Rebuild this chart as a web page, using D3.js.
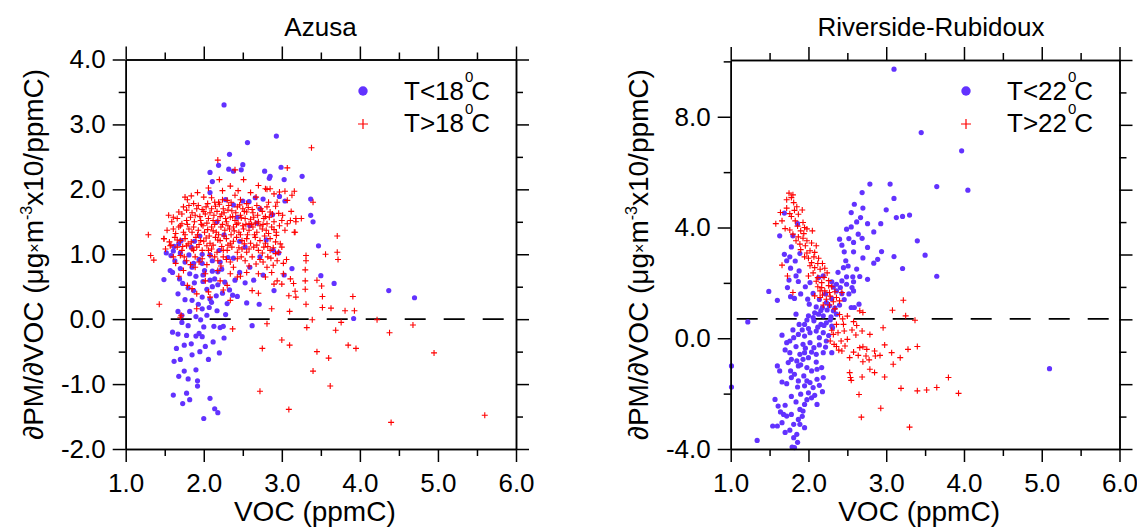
<!DOCTYPE html>
<html>
<head>
<meta charset="utf-8">
<script src="https://cdn.jsdelivr.net/npm/d3@7"></script>
<style>
  body { margin: 0; background: #fff; }
  text { font-family: "Liberation Sans", Arial, sans-serif; fill: #000; }
</style>
</head>
<body>
<div id="chart"></div>
<script>
// ---- data ----
const xTicks = [1, 2, 3, 4, 5, 6]
const xMinor = [1.5, 2.5, 3.5, 4.5, 5.5]
const azusaYTicks = [-2, -1, 0, 1, 2, 3, 4]
const azusaYMinor = [-1.5, -0.5, 0.5, 1.5, 2.5, 3.5]
const riverYTicks = [-4, 0, 4, 8]
const riverYMinor = [-2, 2, 6, 10]
const azusaRef = 0
const riverRef = 0.7

// Azusa, T<18C
const azusaCold = [
  [2.26,3.30],[2.93,2.82],[2.56,2.72],[2.33,2.54],[2.19,2.37],[2.50,2.38],[2.08,2.26],[2.32,2.31],
  [2.38,2.28],[2.48,2.30],[2.78,2.28],[2.99,2.34],[2.85,2.20],[2.84,2.17],[3.03,2.15],[3.26,2.20],
  [2.11,2.12],[2.08,1.95],[2.66,1.87],[2.76,1.85],[2.97,1.89],[3.37,1.85],[3.04,1.82],[2.28,1.84],
  [2.50,1.82],[2.58,1.81],[2.38,1.76],[2.72,1.70],[2.88,1.61],[3.37,1.60],[3.40,1.50],[2.43,1.57],
  [2.68,1.48],[2.59,1.44],[2.17,1.50],[1.95,1.28],[1.71,1.21],[1.68,1.16],[1.52,1.02],[1.61,1.05],
  [1.81,0.99],[1.84,1.11],[2.08,0.99],[2.11,0.90],[2.21,0.88],[2.31,0.95],[2.38,0.94],[2.53,1.11],
  [2.72,0.96],[2.89,1.06],[3.47,1.13],[1.63,0.90],[1.87,0.86],[1.98,0.86],[2.01,0.75],[2.11,0.74],
  [1.85,0.80],[1.90,0.66],[1.99,0.68],[2.18,0.73],[2.23,0.77],[1.57,0.75],[1.60,0.72],[1.49,0.61],
  [1.69,0.62],[1.73,0.55],[1.67,0.39],[1.80,0.48],[1.87,0.44],[1.99,0.58],[2.08,0.60],[2.11,0.50],
  [2.18,0.53],[2.27,0.57],[2.33,0.45],[2.40,0.60],[2.53,0.56],[2.59,0.80],[2.76,0.68],[3.03,0.68],
  [3.13,0.78],[3.50,0.67],[3.67,0.55],[2.90,0.44],[2.37,0.37],[2.43,0.35],[1.98,0.34],[2.08,0.31],
  [2.10,0.26],[1.85,0.29],[1.93,0.23],[1.98,0.16],[2.07,0.18],[2.17,0.13],[2.55,0.25],[2.71,0.23],
  [4.37,0.44],[4.70,0.33],[3.92,0.01],[1.67,0.12],[1.72,0.06],[1.96,-0.01],[2.28,0.07],[1.80,-0.10],
  [1.60,-0.20],[1.67,-0.23],[1.78,-0.25],[1.90,-0.26],[1.98,-0.27],[2.13,-0.11],[2.21,-0.13],[2.25,-0.11],
  [2.62,-0.10],[2.26,-0.29],[1.65,-0.45],[1.70,-0.62],[1.75,-0.80],[1.80,-0.92],[1.85,-0.55],[1.90,-0.78],
  [1.95,-0.50],[2.02,-0.42],[2.20,-0.52],[1.62,-0.65],[1.92,-0.95],[2.12,-0.35],[1.75,-0.40],
  [1.61,-1.17],[1.73,-1.30],[1.78,-1.14],[1.92,-1.03],[2.00,-1.53],[2.14,-1.38],[2.18,-1.44],
  [1.62,1.12],[1.70,1.02],[1.76,0.88],[1.82,0.70],[1.88,0.56],[1.94,0.92],[2.04,0.46],[2.14,0.62],
  [2.24,0.40],[2.30,0.24],[1.76,0.30],[1.82,0.12],[1.90,0.04],[2.00,-0.12],[2.04,0.06],[2.16,0.36],
  [1.70,0.78],[1.58,0.98],[2.46,0.72],[2.64,0.60],[2.20,1.06],[1.98,1.00],[1.88,1.20],[2.26,1.30],
  [2.46,1.20],[2.80,1.22],[2.96,1.02],[1.72,-0.05],[1.84,-0.38],[2.06,-0.62],[1.68,-0.88],[1.82,-1.24],
  [2.08,-1.22],[1.94,-0.22]
]

// Azusa, T>18C
const azusaWarm = [
  [1.76,1.88],[1.79,1.84],[2.00,1.88],[2.10,1.87],[2.19,1.80],[2.30,1.83],[2.40,1.91],[2.47,1.84],
  [2.55,1.78],[2.67,1.88],[2.79,2.01],[2.85,2.01],[2.97,1.96],[3.07,1.83],[3.13,1.91],[2.90,1.93],[2.94,1.80],
  [1.55,1.60],[1.61,1.57],[1.68,1.65],[1.74,1.73],[1.81,1.75],[1.87,1.78],[1.93,1.75],[1.98,1.69],
  [2.03,1.73],[2.10,1.70],[2.15,1.74],[2.20,1.77],[2.25,1.70],[2.32,1.75],[2.36,1.67],[2.43,1.73],
  [2.50,1.70],[2.55,1.65],[2.62,1.69],[2.68,1.75],[2.75,1.66],[2.81,1.73],[2.85,1.65],[2.92,1.74],
  [2.96,1.63],[3.01,1.60],[2.84,1.57],[3.11,1.52],[3.18,1.50],
  [1.59,1.50],[1.66,1.55],[1.72,1.47],[1.78,1.52],[1.83,1.57],[1.89,1.60],[1.96,1.52],[2.02,1.62],
  [2.06,1.55],[2.13,1.60],[2.18,1.52],[2.23,1.62],[2.28,1.55],[2.34,1.57],[2.40,1.52],[2.47,1.60],
  [2.53,1.55],[2.58,1.47],[2.64,1.57],[2.70,1.50],[2.77,1.55],[2.81,1.47],[2.90,1.50],[3.00,1.52],
  [3.07,1.47],[3.16,1.34],[3.18,1.55],
  [1.53,1.37],[1.61,1.39],[1.68,1.42],[1.74,1.34],[1.81,1.39],[1.87,1.42],[1.93,1.37],[1.99,1.44],
  [2.05,1.38],[2.10,1.42],[2.16,1.34],[2.22,1.42],[2.27,1.37],[2.33,1.39],[2.38,1.42],[2.45,1.34],
  [2.51,1.39],[2.58,1.37],[2.63,1.42],[2.68,1.34],[2.75,1.39],[2.80,1.37],[2.87,1.42],[2.93,1.34],
  [3.04,1.37],[2.93,1.29],
  [1.49,1.24],[1.56,1.19],[1.63,1.26],[1.70,1.21],[1.76,1.24],[1.84,1.19],[1.90,1.26],[1.96,1.21],
  [2.03,1.25],[2.08,1.17],[2.15,1.26],[2.21,1.21],[2.29,1.24],[2.34,1.17],[2.42,1.26],[2.49,1.21],
  [2.55,1.24],[2.60,1.17],[2.66,1.26],[2.72,1.21],[2.79,1.17],[2.85,1.24],[2.92,1.19],[2.98,1.16],
  [1.51,1.08],[1.57,1.13],[1.66,1.11],[1.72,1.06],[1.78,1.13],[1.85,1.08],[1.91,1.11],[1.98,1.06],
  [2.04,1.13],[2.10,1.08],[2.17,1.03],[2.23,1.12],[2.30,1.06],[2.36,1.11],[2.43,1.03],[2.49,1.08],
  [2.55,1.03],[2.64,1.11],[2.70,1.06],[2.77,1.11],[2.85,1.06],[2.92,1.01],[3.00,1.11],[2.96,1.03],
  [1.61,0.96],[1.70,0.98],[1.78,0.90],[1.89,0.96],[1.98,0.93],[2.08,0.98],[2.18,0.90],[2.25,0.96],
  [2.34,0.88],[2.43,0.93],[2.53,0.90],[2.62,0.96],[2.67,0.85],[2.76,0.88],[2.82,0.96],[2.89,0.83],
  [2.94,0.90],[3.02,0.86],[2.81,0.80],
  [1.74,0.75],[1.89,0.80],[2.02,0.70],[2.18,0.75],[2.34,0.70],[2.43,0.65],[2.55,0.72],[2.70,0.70],
  [2.79,0.65],[2.87,0.72],[2.94,0.59],[2.90,0.54],[3.02,0.70],[3.11,0.62],[1.79,0.52],[2.02,0.59],
  [2.21,0.59],[2.30,0.52],[1.68,0.66],[1.85,0.47],[1.91,0.39],[2.06,0.42],[2.25,0.45],
  [1.70,0.03],[2.08,0.34],[2.34,0.29],
  [1.72,1.62],[1.78,1.68],[1.85,1.64],[1.91,1.70],[1.95,1.58],[2.00,1.66],[2.05,1.78],[2.08,1.64],
  [2.12,1.52],[2.14,1.80],[2.17,1.66],[2.21,1.58],[2.24,1.84],[2.26,1.64],[2.29,1.50],[2.31,1.68],
  [2.35,1.80],[2.37,1.58],[2.41,1.64],[2.44,1.48],[2.46,1.76],[2.48,1.56],[2.52,1.66],[2.54,1.46],
  [2.57,1.72],[2.60,1.54],[2.63,1.64],[2.66,1.48],[2.69,1.60],[2.73,1.70],[2.76,1.46],[2.79,1.58],
  [2.83,1.80],[2.88,1.62],
  [1.64,1.32],[1.70,1.44],[1.76,1.30],[1.79,1.46],[1.85,1.34],[1.88,1.50],[1.92,1.30],[1.97,1.46],
  [2.01,1.34],[2.04,1.48],[2.07,1.28],[2.12,1.36],[2.14,1.46],[2.19,1.30],[2.24,1.46],[2.26,1.28],
  [2.31,1.44],[2.35,1.30],[2.39,1.36],[2.42,1.46],[2.47,1.30],[2.50,1.44],[2.56,1.30],[2.61,1.46],
  [2.65,1.30],[2.72,1.44],[2.78,1.28],[2.83,1.32],[2.90,1.38],[2.97,1.44],
  [1.58,1.14],[1.66,1.22],[1.73,1.12],[1.80,1.16],[1.87,1.06],[1.94,1.15],[2.00,1.20],[2.06,1.06],
  [2.12,1.14],[2.18,1.22],[2.25,1.06],[2.31,1.14],[2.38,1.20],[2.45,1.10],[2.52,1.16],[2.58,1.08],
  [2.68,1.14],[2.75,1.02],[2.82,1.12],[2.89,1.10],
  [1.64,0.86],[1.75,0.96],[1.83,0.84],[1.94,0.88],[2.04,0.84],[2.14,0.96],[2.22,0.82],[2.29,0.92],
  [2.38,0.80],[2.48,0.96],[2.58,0.82],[2.72,0.92],[2.86,0.94],[3.06,0.92],
  [1.92,1.95],[2.06,2.02],[2.24,1.98],[2.34,2.05],[2.44,1.98],[2.60,1.95],[2.70,2.06],[1.84,1.90],
  [3.38,2.64],[3.07,2.33],[2.18,2.45],[2.40,2.30],[2.51,2.15],[2.20,2.15],[2.81,2.00],[3.16,1.97],
  [3.04,1.97],[3.40,1.80],[3.12,1.66],[3.25,1.55],[3.17,1.34],[1.29,1.30],[1.49,1.24],[3.71,1.28],
  [3.56,1.00],[3.71,1.03],[3.72,0.92],[3.31,0.98],[3.31,0.90],[1.32,0.98],[1.36,0.91],[3.30,0.76],
  [3.30,0.59],[3.45,0.60],[3.51,0.51],[3.52,0.35],[3.52,0.18],[3.30,0.46],[3.15,0.55],[3.17,0.43],
  [3.18,0.34],[3.31,0.23],[3.09,0.36],[3.00,0.54],[2.70,0.40],[2.62,0.44],[2.47,0.66],[1.43,0.23],
  [1.71,0.06],[1.91,0.16],[2.87,0.16],[3.10,0.12],[3.63,0.17],[3.81,0.13],[3.93,0.13],[3.91,0.35],
  [3.76,-0.05],[4.22,-0.01],[3.39,-0.01],[2.81,-0.07],[3.32,-0.13],[3.69,-0.17],[4.38,-0.21],[4.68,-0.09],
  [3.00,-0.32],[2.37,-0.15],
  [3.45,-0.50],[3.60,-0.60],[3.85,-0.40],[3.95,-0.45],[3.40,-0.80],[3.10,-0.40],[2.75,-0.45],[4.95,-0.52],
  [2.72,-1.11],[3.09,-1.39],[3.62,-1.03],[4.40,-1.59],[5.60,-1.48]
]

// Riverside-Rubidoux, T<22C
const riverCold = [
  [3.10,9.72],[3.45,7.43],[3.97,6.77],[4.05,5.35],[5.10,-1.10],
  [2.79,5.57],[3.05,5.57],[3.65,5.48],[2.69,5.26],[2.59,4.84],[3.00,4.64],[1.69,4.52],[3.13,4.36],
  [3.21,4.40],[2.55,4.54],[2.67,4.36],[2.76,4.14],[2.93,4.14],[1.86,4.14],[1.63,3.70],[2.49,3.94],
  [2.55,4.02],[2.40,3.58],[2.64,3.76],[2.69,3.61],[2.58,3.46],[2.43,3.36],[2.76,3.28],[3.40,3.52],
  [2.46,3.12],[2.58,3.12],[2.94,3.13],[2.89,2.85],[2.84,2.71],[1.69,3.03],[1.76,2.94],[1.89,3.06],
  [1.83,2.79],[1.77,2.53],[1.88,2.43],[1.84,2.25],[1.87,2.05],[1.75,2.10],[1.73,1.83],[1.49,1.69],
  [1.60,1.37],[1.77,1.50],[3.21,2.52],[3.65,2.24],[2.45,2.55],[2.51,2.61],[2.49,2.22],[2.57,2.22],
  [2.66,2.23],[2.76,2.13],[2.43,2.07],[2.36,1.95],[2.58,2.04],[2.56,1.83],[2.58,1.71],[2.49,1.95],
  [2.41,1.83],[2.32,1.85],[2.36,1.71],[2.43,1.61],[2.55,1.11],[2.59,1.11],[2.65,1.23],[2.30,1.43],
  [2.23,1.29],[2.19,2.25],[2.13,2.19],[2.02,2.01],[1.99,1.41],[2.01,1.23],[2.10,1.13],[2.18,1.11],
  [2.27,1.17],[2.32,0.99],[1.84,0.87],[2.00,0.81],[2.06,0.75],[2.13,0.87],[2.19,0.81],[2.29,0.77],
  [2.36,0.87],[1.95,0.50],[2.07,0.63],[2.16,0.50],[2.23,0.56],[2.30,0.44],[1.22,0.59],[2.00,0.35],
  [2.10,0.26],[2.19,0.20],[2.31,0.38],[1.95,0.08],[2.14,0.02],[2.23,-0.10],[2.30,-0.52],[2.19,-0.52],
  [1.66,0.11],[1.72,-0.16],[1.76,-0.10],[1.81,0.02],[1.87,0.14],[1.93,-0.22],[2.02,-0.16],[2.07,-0.34],
  [1.95,-0.52],[1.89,-0.58],[1.76,-0.52],[1.78,-0.76],[1.85,-0.82],[1.93,-0.76],[2.00,-0.70],[2.10,-0.58],
  [2.17,-1.06],[2.11,-1.12],[2.04,-1.18],[1.98,-1.06],[1.87,-1.00],[1.77,-1.18],[1.60,-1.00],[1.63,-1.18],
  [1.01,-1.00],[1.01,-1.76],[1.78,-1.42],[1.87,-1.54],[1.98,-1.54],[2.11,-1.48],[2.19,-1.42],[1.95,-1.72],
  [2.06,-1.78],[2.00,-1.97],[2.18,-1.93],[2.11,-2.39],[1.57,-2.21],[1.61,-2.45],[1.54,-3.17],[1.60,-3.17],
  [1.66,-3.05],[1.72,-2.81],[1.78,-2.75],[1.89,-2.57],[1.93,-2.63],[1.87,-2.93],[1.81,-3.11],[1.89,-3.11],
  [1.95,-3.23],[1.85,-3.47],[1.81,-3.59],[1.34,-3.69],[1.79,-3.93],[1.95,-2.39],[2.04,-2.15],[1.68,-2.75],
  [1.82,-3.95],
  [1.80,0.30],[1.84,-0.30],[1.88,0.50],[1.90,-0.96],[1.92,0.30],[1.96,-0.36],[1.98,0.66],[2.02,0.20],
  [2.04,-0.50],[2.08,0.92],[2.10,-0.86],[2.12,0.40],[2.14,-0.24],[2.16,1.00],[2.20,0.46],[2.22,-0.32],
  [2.24,1.02],[2.26,0.10],[2.28,0.66],[2.34,1.10],[1.70,-0.42],[1.74,-0.88],[1.82,-1.30],[1.86,-1.76],
  [1.90,-2.02],[1.94,-1.36],[2.02,-1.60],[2.08,-2.06],[2.14,-1.70],[1.72,-1.64],[1.78,-2.10],[1.84,-2.30],
  [1.70,-2.42],[1.64,-2.66],[1.76,-3.32],[1.70,-3.40],[1.92,-2.82],[1.98,-2.22],[1.86,-3.76],[1.66,-1.58],
  [2.40,1.20],[2.46,1.40],[2.52,1.60],[2.38,2.38],[2.48,2.80],[2.62,2.50],[2.70,2.90],[2.30,2.04],
  [2.22,1.60],[2.14,1.40],[2.06,1.62],[1.96,1.86],[1.90,1.60],[1.82,1.44],[1.78,3.30],[1.72,2.80],
  [1.80,3.70],[2.52,3.60],[2.62,4.20],[2.84,3.84],[2.70,4.70],[3.10,5.05],[3.30,4.45],[3.50,3.00],
  [3.10,2.95]
]

// Riverside-Rubidoux, T>22C
const riverWarm = [
  [1.75,5.24],[1.78,5.08],[1.81,4.90],[1.85,4.75],[1.92,4.63],[1.87,4.48],[1.76,4.50],[1.66,4.24],
  [1.58,4.14],[1.83,4.24],[1.93,4.18],[1.95,4.00],[1.76,3.91],[1.80,3.76],[1.87,3.66],[1.93,3.61],
  [1.98,3.52],[2.05,3.88],[1.89,3.40],[1.96,3.34],[2.02,3.16],[1.95,2.94],[2.00,2.89],[2.07,2.94],
  [2.13,2.89],[2.04,2.73],[2.08,2.55],[2.15,2.49],[2.21,2.53],[2.10,3.34],[1.66,2.64],[1.73,2.25],
  [2.00,2.25],[2.12,2.19],[2.17,2.01],[2.17,1.83],[2.15,1.71],[2.21,1.71],[2.27,1.65],[1.80,1.65],
  [2.08,1.53],[2.15,1.47],[2.23,1.41],[2.36,1.47],[2.19,1.20],[2.27,1.20],[2.40,1.35],[2.43,1.65],
  [3.22,1.37],[3.08,1.01],[3.25,0.81],[3.37,0.65],[2.66,0.99],[2.70,0.93],[2.96,0.38],[2.58,0.60],
  [2.45,0.50],[2.36,0.50],[2.30,0.29],[2.38,0.20],[2.32,0.14],[2.46,0.26],[2.50,-0.04],[2.61,0.12],
  [2.69,0.26],[2.79,0.14],[2.28,-0.10],[2.33,-0.22],[2.39,-0.43],[2.43,-0.46],[2.47,-0.28],[2.53,-0.70],
  [2.66,-0.34],[2.70,-0.31],[2.75,-0.40],[2.74,-0.64],[2.85,-0.46],[2.86,-0.64],[3.07,-0.52],[3.28,-0.40],
  [3.09,-0.94],[2.70,-0.85],[2.79,-1.12],[2.85,-1.24],[2.98,-1.40],[2.53,-1.24],[2.54,-1.42],[2.55,-1.52],
  [2.69,-1.40],[3.19,-1.81],[3.40,-1.90],[3.52,-1.87],[3.65,-1.78],[3.80,-1.42],[2.65,-2.03],[2.93,-2.53],
  [2.68,-2.85],[3.30,-3.21],[3.93,-1.99],
  [1.72,4.70],[1.78,4.40],[1.82,4.62],[1.86,4.05],[1.90,3.88],[1.94,3.78],[1.98,3.95],[1.84,3.52],
  [1.90,3.20],[1.98,3.08],[2.04,3.44],[2.08,3.10],[2.12,2.70],[2.18,2.70],[2.24,2.36],[2.26,2.08],
  [2.30,1.86],[2.20,2.20],[2.28,1.52],[2.32,1.32],[2.34,1.06],[2.40,0.86],[2.44,0.70],[2.50,0.80],
  [2.56,0.30],[2.62,0.46],[2.42,-0.10],[2.36,-0.30],[2.58,-0.50],[2.64,-0.62],[2.78,-0.78],[2.92,-0.62],
  [2.98,-0.24],[3.18,-0.70],[3.40,-0.30],[2.06,2.36],[2.10,2.06],[2.02,2.62],[1.70,3.96],[1.64,4.54],
  [1.72,5.00],[1.80,5.18],[2.34,1.68],[2.18,1.56],[2.12,1.86],[2.26,1.90]
]

// ---- drawing ----
const width = 1137
const height = 528
const blue = "#6232ff"
const red = "#ff0000"
const font = "'Liberation Sans', Arial, sans-serif"

const svg = d3.select("#chart")
  .append("svg")
  .attr("width", width)
  .attr("height", height)

// plain hyphen minus, like the original
const fmt = d => d.toFixed(1)

function styleAxis(g) {
  g.select(".domain").attr("stroke-width", 1.5)
  g.selectAll(".tick line").attr("stroke-width", 1.5)
  g.attr("font-family", font).attr("font-size", 26)
  g.selectAll(".tick text").attr("fill", "#000")
}

function axisPair(g, axisFn, scale, major, minor, transform, labelled, padding) {
  g.append("g")
    .attr("transform", transform)
    .call(axisFn(scale).tickValues(minor).tickSize(7).tickSizeOuter(0).tickFormat(""))
    .call(styleAxis)
  g.append("g")
    .attr("transform", transform)
    .call(axisFn(scale).tickValues(major).tickSize(13).tickSizeOuter(0)
      .tickPadding(padding || 6).tickFormat(labelled ? fmt : ""))
    .call(styleAxis)
}

function drawPanel(p) {
  const g = svg.append("g")

  const x = d3.scaleLinear().domain([1, 6]).range([p.left, p.right])
  const y = d3.scaleLinear().domain(p.yDomain).range([p.bottom, p.top])
  const yRight = d3.scaleLinear().domain(p.rightDomain).range([p.bottom, p.top])

  // reference dashed line
  g.append("line")
    .attr("x1", x(1) + 6)
    .attr("x2", x(6) - 6)
    .attr("y1", y(p.ref))
    .attr("y2", y(p.ref))
    .attr("stroke", "#000")
    .attr("stroke-width", 1.6)
    .attr("stroke-dasharray", "21,18")

  // cold points (dots) then warm points (plus)
  g.append("g")
    .selectAll("circle")
    .data(p.cold)
    .join("circle")
      .attr("cx", d => x(d[0]))
      .attr("cy", d => y(d[1]))
      .attr("r", 2.6)
      .attr("fill", blue)

  g.append("g")
    .selectAll("path")
    .data(p.warm)
    .join("path")
      .attr("d", d => `M${x(d[0]) - 3},${y(d[1])}h6M${x(d[0])},${y(d[1]) - 3}v6`)
      .attr("stroke", red)
      .attr("stroke-width", 1.1)
      .attr("fill", "none")

  // axes: bottom/left labelled, top/right mirrored
  axisPair(g, d3.axisBottom, x, xTicks, xMinor, `translate(0,${p.bottom})`, true, 12)
  axisPair(g, d3.axisTop, x, xTicks, xMinor, `translate(0,${p.top})`, false)
  axisPair(g, d3.axisLeft, y, p.yTicks, p.yMinor, `translate(${p.left},0)`, true, 7)
  axisPair(g, d3.axisRight, yRight, p.rightTicks, p.rightMinor, `translate(${p.right},0)`, false)

  // title
  g.append("text")
    .attr("x", p.titleX)
    .attr("y", 36)
    .attr("text-anchor", "middle")
    .attr("font-size", 26)
    .text(p.title)

  // x label
  g.append("text")
    .attr("x", (p.left + p.right) / 2 - 6)
    .attr("y", 521)
    .attr("text-anchor", "middle")
    .attr("font-size", 28)
    .text("VOC (ppmC)")

  // y label
  const yl = g.append("text")
    .attr("transform", `translate(${p.left - 83},${(p.top + p.bottom) / 2}) rotate(-90)`)
    .attr("text-anchor", "middle")
    .attr("font-size", 28)
  yl.append("tspan").text("\u2202PM/\u2202VOC (\u03bcg")
  yl.append("tspan").attr("font-size", 16).attr("dy", -3).text("\u00d7")
  yl.append("tspan").attr("dy", 3).text("m")
  yl.append("tspan").attr("font-size", 16).attr("dy", -11).text("-3")
  yl.append("tspan").attr("dy", 11).text("x10/ppmC)")

  // legend
  const lx = p.legendX
  g.append("circle").attr("cx", lx).attr("cy", 91).attr("r", 4.7).attr("fill", blue)
  g.append("path")
    .attr("d", `M${lx - 5},124h10M${lx},119v10`)
    .attr("stroke", red).attr("stroke-width", 1.2)
  const rows = [["<", 100], [">", 132]]
  rows.forEach(([sign, base]) => {
    const t = g.append("text")
      .attr("x", lx + 41)
      .attr("y", base)
      .attr("font-size", 26)
    t.append("tspan").text("T" + sign + p.temp)
    t.append("tspan").attr("font-size", 15).attr("dy", -18).attr("dx", 1).text("0")
    t.append("tspan").attr("dy", 18).attr("dx", -2).text("C")
  })
}

drawPanel({
  title: "Azusa", titleX: 320.5,
  left: 125.7, right: 516, top: 59.5, bottom: 449,
  yDomain: [-2, 4], yTicks: azusaYTicks, yMinor: azusaYMinor,
  rightDomain: [-2, 4], rightTicks: azusaYTicks, rightMinor: azusaYMinor,
  ref: azusaRef, cold: azusaCold, warm: azusaWarm,
  legendX: 363, temp: "18"
})

drawPanel({
  title: "Riverside-Rubidoux", titleX: 931,
  left: 730.7, right: 1119.5, top: 60, bottom: 449,
  yDomain: [-4, 10.05], yTicks: riverYTicks, yMinor: riverYMinor,
  rightDomain: [-2, 4], rightTicks: azusaYTicks, rightMinor: azusaYMinor,
  ref: riverRef, cold: riverCold, warm: riverWarm,
  legendX: 966, temp: "22"
})
</script>
</body>
</html>
